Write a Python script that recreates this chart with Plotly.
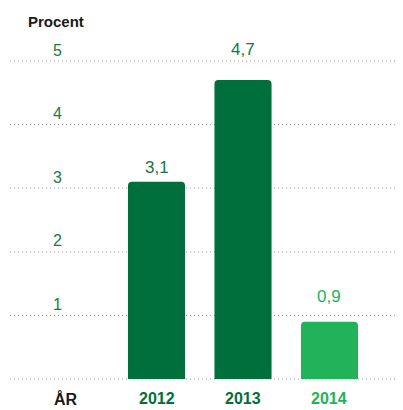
import plotly.graph_objects as go

years = ["2012", "2013", "2014"]
values = [3.1, 4.7, 0.9]
value_labels = ["3,1", "4,7", "0,9"]
bar_colors = ["#006f3b", "#006f3b", "#22b35a"]
label_colors = ["#16763f", "#16763f", "#22b35a"]
y_ticks = [1, 2, 3, 4, 5]
y_tick_labels = ["1", "2", "3", "4", "5"]

# pixel offsets of the value labels above the bar tops (layout only)
label_lift = [14, 31, 25]

FONT = "Liberation Sans"
xpos = list(range(len(years)))

fig = go.Figure()
fig.add_trace(go.Bar(
    x=xpos, y=values, width=0.66,
    marker=dict(color=bar_colors, line=dict(width=0)),
    hoverinfo="skip",
))

shapes = []
for v in [0] + y_ticks:
    shapes.append(dict(type="line", xref="paper", yref="y", x0=0, x1=1, y0=v, y1=v,
                       layer="below", line=dict(color="#9a9a9a", width=1, dash="1px,3px")))

annotations = []
for v, t in zip(y_ticks, y_tick_labels):
    annotations.append(dict(x=-1.15, y=v, xref="x", yref="y", text=t, showarrow=False,
                            yanchor="middle", yshift=11,
                            font=dict(family=FONT, size=16, color="#1a7a45")))
for x, v, lab, c, lift in zip(xpos, values, value_labels, label_colors, label_lift):
    annotations.append(dict(x=x, y=v, xref="x", yref="y", text=lab, showarrow=False,
                            yanchor="middle", yshift=lift,
                            font=dict(family=FONT, size=17, color=c)))
for x, yr, c in zip(xpos, years, bar_colors):
    annotations.append(dict(x=x, y=0, xref="x", yref="y", text="<b>%s</b>" % yr, showarrow=False,
                            yanchor="top", yshift=-9,
                            font=dict(family=FONT, size=16, color=c)))
annotations.append(dict(x=-1.05, y=0, xref="x", yref="y", text="<b>ÅR</b>", showarrow=False,
                        yanchor="top", yshift=-9, font=dict(family=FONT, size=16, color="#1a1a1a")))
annotations.append(dict(x=0.041, y=1.115, xref="paper", yref="paper", text="<b>Procent</b>",
                        showarrow=False, xanchor="left", yanchor="middle",
                        font=dict(family=FONT, size=15, color="#1a1a1a")))

fig.update_layout(
    width=395, height=402,
    margin=dict(l=2, r=0, t=51, b=29),
    plot_bgcolor="rgba(0,0,0,0)", paper_bgcolor="white",
    showlegend=False,
    barcornerradius=4,
    xaxis=dict(range=[-1.694, 2.850], showgrid=False, zeroline=False, showticklabels=False,
               fixedrange=True),
    yaxis=dict(range=[-0.0314, 5.0314], showticklabels=False, showgrid=False,
               zeroline=False, fixedrange=True),
    shapes=shapes,
    annotations=annotations,
)
fig.write_html("out.html")
